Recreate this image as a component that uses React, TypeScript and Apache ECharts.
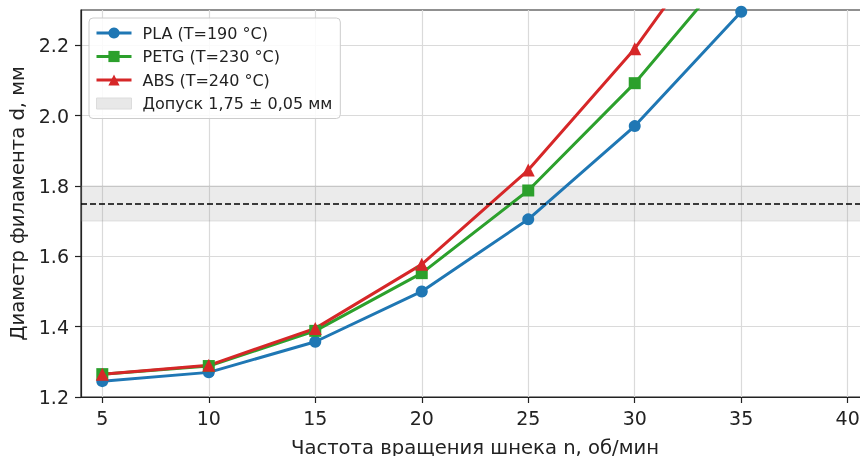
import React, { useEffect, useRef } from "react";
import * as echarts from "echarts";

const xValues = [5, 10, 15, 20, 25, 30, 35];
const plaValues = [1.245, 1.27, 1.357, 1.5, 1.705, 1.97, 2.295];
const petgValues = [1.265, 1.288, 1.388, 1.552, 1.787, 2.092, 2.45];
const absValues = [1.265, 1.29, 1.395, 1.577, 1.845, 2.19, 2.61];
const xTicks = [5, 10, 15, 20, 25, 30, 35, 40];
const yTicks = [1.2, 1.4, 1.6, 1.8, 2.0, 2.2];
const toleranceLow = 1.7;
const toleranceHigh = 1.8;
const nominal = 1.75;

const names = {
  pla: "PLA (T=190 °C)",
  petg: "PETG (T=230 °C)",
  abs: "ABS (T=240 °C)",
  band: "Допуск 1,75 ± 0,05 мм",
};

const FONT = "DejaVu Sans";

export default function App() {
  const ref = useRef<HTMLDivElement>(null);
  useEffect(() => {
    if (!ref.current) return;
    const chart = echarts.init(ref.current, undefined, { renderer: "svg" });
    const pair = (ys: number[]) => xValues.map((x, i) => [x, ys[i]]);
    const lineSeries = (name: string, ys: number[], color: string, symbol: string, size: number) => ({
      name,
      type: "line",
      data: pair(ys),
      symbol,
      symbolSize: size,
      showAllSymbol: true,
      clip: true,
      lineStyle: { color, width: 3 },
      itemStyle: { color },
      z: 3,
    });
    chart.setOption({
      animation: false,
      textStyle: { fontFamily: FONT },
      grid: {
        left: 81,
        top: 10,
        width: 788,
        height: 387,
        outerBoundsMode: "none",
        containLabel: false,
        show: true,
        borderColor: "#222",
        borderWidth: 1.2,
        backgroundColor: "transparent",
      },
      legend: {
        left: 89,
        top: 18,
        orient: "vertical",
        itemWidth: 35,
        itemHeight: 14,
        itemGap: 7.5,
        padding: [7, 8, 7, 6],
        backgroundColor: "rgba(255,255,255,0.85)",
        borderColor: "#cccccc",
        borderWidth: 1,
        borderRadius: 4,
        lineStyle: { width: 3 },
        textStyle: { fontFamily: FONT, fontSize: 16, color: "#222", lineHeight: 16, padding: [0, 0, 0, 6] },
        data: [
          { name: names.pla },
          { name: names.petg },
          { name: names.abs },
          {
            name: names.band,
            icon: "path://M0,0 L35,0 L35,11 L0,11 Z",
            itemStyle: { color: "#e8e8e8", borderColor: "#dcdcdc", borderWidth: 1 },
          },
        ],
      },
      xAxis: {
        type: "value",
        min: 4,
        max: 41,
        name: "Частота вращения шнека n, об/мин",
        nameLocation: "middle",
        nameGap: 40,
        nameTextStyle: { fontFamily: FONT, fontSize: 19.6, color: "#222" },
        axisLine: { show: true, lineStyle: { color: "#222", width: 1.2 } },
        axisTick: { show: true, length: 6, customValues: xTicks, lineStyle: { color: "#222", width: 1.2 } },
        axisLabel: { customValues: xTicks, margin: 11, fontFamily: FONT, fontSize: 19, color: "#222" },
        splitLine: { show: true, lineStyle: { color: "#dadada", width: 1.2 } },
      },
      yAxis: {
        type: "value",
        min: 1.2,
        max: 2.3,
        name: "Диаметр филамента d, мм",
        nameLocation: "middle",
        nameGap: 52,
        nameTextStyle: { fontFamily: FONT, fontSize: 19.6, color: "#222" },
        axisLine: { show: true, lineStyle: { color: "#222", width: 1.2 } },
        axisTick: { show: true, length: 6, customValues: yTicks, lineStyle: { color: "#222", width: 1.2 } },
        axisLabel: {
          customValues: yTicks,
          margin: 12,
          fontFamily: FONT,
          fontSize: 19,
          color: "#222",
          formatter: (v: number) => v.toFixed(1),
        },
        splitLine: { show: true, lineStyle: { color: "#dadada", width: 1.2 } },
      },
      series: [
        {
          name: names.band,
          type: "line",
          data: [],
          z: 1,
          itemStyle: { color: "#e8e8e8" },
          markArea: {
            silent: true,
            itemStyle: { color: "rgba(128,128,128,0.16)", borderColor: "rgba(128,128,128,0.2)", borderWidth: 1 },
            data: [[{ yAxis: toleranceLow }, { yAxis: toleranceHigh }]],
          },
          markLine: {
            silent: true,
            symbol: "none",
            label: { show: false },
            lineStyle: { color: "#000", type: [6, 3], width: 1.5 },
            data: [{ yAxis: nominal }],
          },
        },
        lineSeries(names.pla, plaValues, "#1f77b4", "circle", 12),
        lineSeries(names.petg, petgValues, "#2ca02c", "rect", 12),
        lineSeries(names.abs, absValues, "#d62728", "triangle", 13),
      ],
    });
    return () => chart.dispose();
  }, []);
  return <div ref={ref} style={{ position: "fixed", left: 0, top: 0, width: 860, height: 456 }} />;
}
